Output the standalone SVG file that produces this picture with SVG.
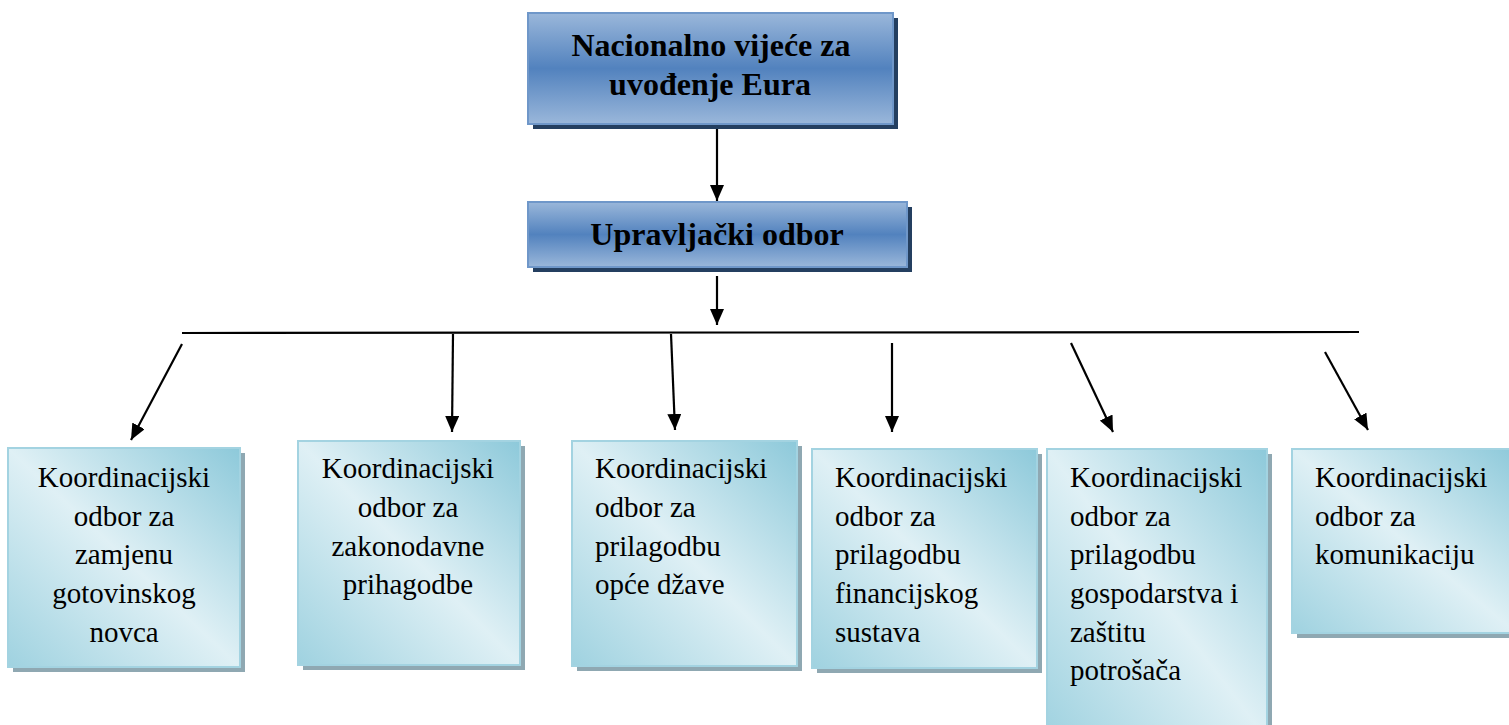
<svg xmlns="http://www.w3.org/2000/svg" width="1509" height="725" viewBox="0 0 1509 725">
<style>
.title{font-family:'Liberation Serif','DejaVu Serif',serif;font-weight:bold;font-size:32px;fill:#000;text-anchor:middle}
.lbl{font-family:'Liberation Serif','DejaVu Serif',serif;font-size:29px;fill:#000}
.mid{text-anchor:middle}
.top{fill:url(#gTop);stroke:#6f97c9;stroke-width:2}
.topS{fill:#243f60}
.box{fill:url(#gBox);stroke:#a3d3e1;stroke-width:2}
.boxS{fill:#8fa8b2}
.con{stroke:#000;stroke-width:2.2;fill:none}
.arr{marker-end:url(#ah)}
</style>
<defs>
<linearGradient id="gTop" x1="0" y1="0" x2="0" y2="1">
<stop offset="0" stop-color="#9ab7da"/>
<stop offset="0.5" stop-color="#5282be"/>
<stop offset="1" stop-color="#9ab7da"/>
</linearGradient>
<linearGradient id="gBox" x1="1" y1="0" x2="0" y2="1">
<stop offset="0" stop-color="#8dc9da"/>
<stop offset="0.5" stop-color="#dff0f5"/>
<stop offset="1" stop-color="#9fd2e0"/>
</linearGradient>
<marker id="ah" markerUnits="userSpaceOnUse" markerWidth="16" markerHeight="14" refX="16" refY="7" orient="auto">
<path d="M0,0 L16,7 L0,14 Z" fill="#000"/>
</marker>
</defs>
<rect width="1509" height="725" fill="#fff"/>

<g id="connectors">
<line class="con arr" x1="717" y1="128" x2="717" y2="201"/>
<line class="con arr" x1="717" y1="276" x2="717" y2="325"/>
<line class="con" x1="182" y1="333" x2="1359" y2="332"/>
<line class="con arr" x1="182" y1="344" x2="131" y2="440"/>
<line class="con arr" x1="453" y1="334" x2="452" y2="432"/>
<line class="con arr" x1="671" y1="334" x2="675" y2="430"/>
<line class="con arr" x1="892" y1="343" x2="892" y2="432"/>
<line class="con arr" x1="1071" y1="343" x2="1113" y2="432"/>
<line class="con arr" x1="1325" y1="352" x2="1368" y2="430"/>
</g>

<g id="node-nacionalno">
<rect class="topS" x="533" y="18" width="365" height="111"/>
<rect class="top" x="528" y="13" width="365" height="111"/>
<text class="title" x="711" y="56">Nacionalno vijeće za</text>
<text class="title" x="710" y="95">uvođenje Eura</text>
</g>

<g id="node-upravljacki">
<rect class="topS" x="533" y="207" width="379" height="65"/>
<rect class="top" x="528" y="202" width="379" height="65"/>
<text class="title" x="717" y="245">Upravljački odbor</text>
</g>

<g id="node-k1">
<rect class="boxS" x="13" y="453" width="232" height="219"/>
<rect class="box" x="8" y="448" width="232" height="219"/>
<text class="lbl mid" x="124"><tspan x="124" y="487">Koordinacijski</tspan><tspan x="124" y="526">odbor za</tspan><tspan x="124" y="564">zamjenu</tspan><tspan x="124" y="603">gotovinskog</tspan><tspan x="124" y="642">novca</tspan></text>
</g>

<g id="node-k2">
<rect class="boxS" x="303" y="446" width="222" height="224"/>
<rect class="box" x="298" y="441" width="222" height="224"/>
<text class="lbl mid" x="408"><tspan x="408" y="478">Koordinacijski</tspan><tspan x="408" y="517">odbor za</tspan><tspan x="408" y="556">zakonodavne</tspan><tspan x="408" y="594">prihagodbe</tspan></text>
</g>

<g id="node-k3">
<rect class="boxS" x="577" y="446" width="225" height="225"/>
<rect class="box" x="572" y="441" width="225" height="225"/>
<text class="lbl" x="595"><tspan x="595" y="478">Koordinacijski</tspan><tspan x="595" y="517">odbor za</tspan><tspan x="595" y="556">prilagodbu</tspan><tspan x="595" y="594">opće džave</tspan></text>
</g>

<g id="node-k4">
<rect class="boxS" x="817" y="454" width="225" height="219"/>
<rect class="box" x="812" y="449" width="225" height="219"/>
<text class="lbl" x="835"><tspan x="835" y="487">Koordinacijski</tspan><tspan x="835" y="526">odbor za</tspan><tspan x="835" y="564">prilagodbu</tspan><tspan x="835" y="603">financijskog</tspan><tspan x="835" y="642">sustava</tspan></text>
</g>

<g id="node-k5">
<rect class="boxS" x="1052" y="454" width="220" height="290"/>
<rect class="box" x="1047" y="449" width="220" height="290"/>
<text class="lbl" x="1070"><tspan x="1070" y="487">Koordinacijski</tspan><tspan x="1070" y="526">odbor za</tspan><tspan x="1070" y="564">prilagodbu</tspan><tspan x="1070" y="603">gospodarstva i</tspan><tspan x="1070" y="642">zaštitu</tspan><tspan x="1070" y="680">potrošača</tspan></text>
</g>

<g id="node-k6">
<rect class="boxS" x="1297" y="454" width="225" height="184"/>
<rect class="box" x="1292" y="449" width="225" height="184"/>
<text class="lbl" x="1315"><tspan x="1315" y="487">Koordinacijski</tspan><tspan x="1315" y="526">odbor za</tspan><tspan x="1315" y="564">komunikaciju</tspan></text>
</g>
</svg>
